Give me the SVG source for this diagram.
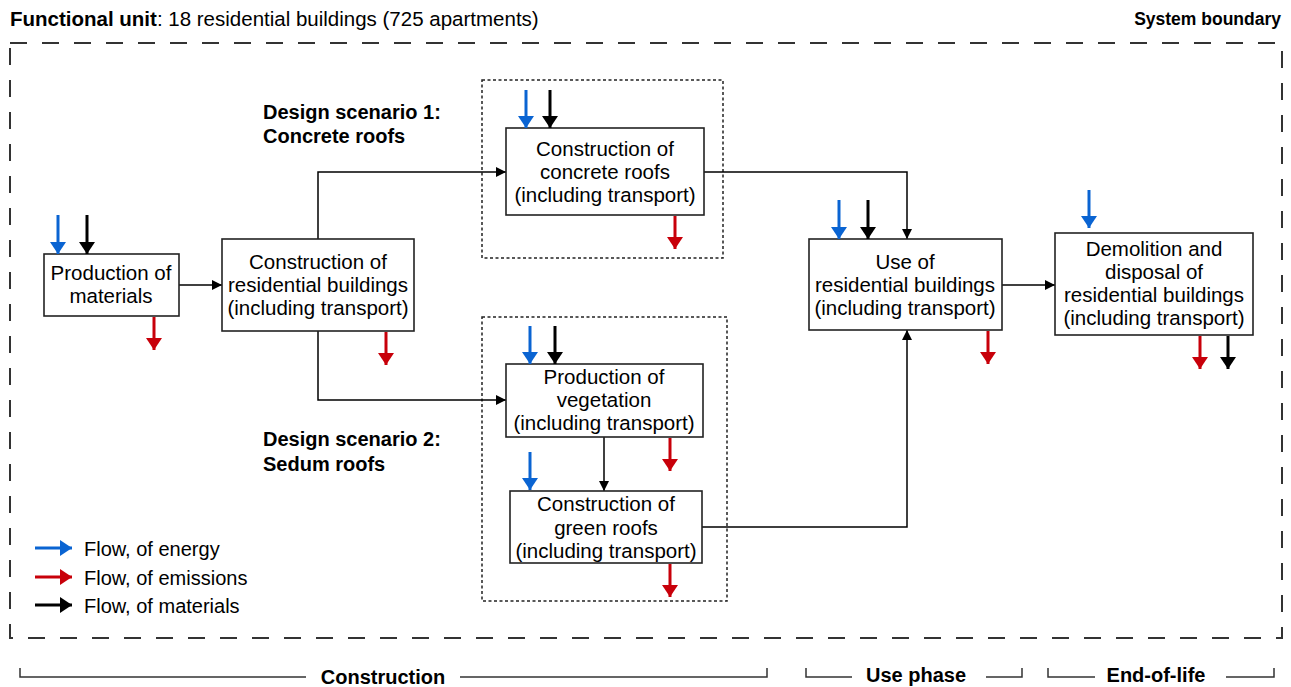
<svg xmlns="http://www.w3.org/2000/svg" width="1291" height="687" viewBox="0 0 1291 687">
<defs>
<style>
text{font-family:"Liberation Sans",Arial,sans-serif;fill:#000}
.t{font-size:20.5px;text-anchor:middle}
.b{font-weight:bold}
.box{fill:#fff;stroke:#222;stroke-width:1.6}
.grp{fill:none;stroke:#222;stroke-width:1.5;stroke-dasharray:3 2.5}
.con{fill:none;stroke:#000;stroke-width:1.5}
.fe{stroke:#0a64d2;stroke-width:3;fill:none}
.fm{stroke:#000;stroke-width:3;fill:none}
.fr{stroke:#c8000a;stroke-width:3;fill:none}
.ds{font-size:20px;font-weight:bold}
.lg{font-size:20px}
.ph{font-size:20px;font-weight:bold;text-anchor:middle}
</style>
<marker id="ah" markerWidth="10" markerHeight="10" refX="10" refY="5" orient="auto" markerUnits="userSpaceOnUse" viewBox="0 0 10 10"><path d="M0,0 L10,5 L0,10 z" fill="#000"/></marker>
<marker id="he" markerWidth="20" markerHeight="16" refX="15" refY="10" orient="auto" markerUnits="userSpaceOnUse" viewBox="0 0 15 20"><path d="M0,0 L15,10 L0,20 z" fill="#0a64d2"/></marker>
<marker id="hr" markerWidth="20" markerHeight="16" refX="15" refY="10" orient="auto" markerUnits="userSpaceOnUse" viewBox="0 0 15 20"><path d="M0,0 L15,10 L0,20 z" fill="#c8000a"/></marker>
<marker id="hm" markerWidth="20" markerHeight="16" refX="15" refY="10" orient="auto" markerUnits="userSpaceOnUse" viewBox="0 0 15 20"><path d="M0,0 L15,10 L0,20 z" fill="#000"/></marker>
</defs>
<rect width="1291" height="687" fill="#fff"/>

<g id="header">
<text x="10" y="26" style="font-size:20.5px"><tspan class="b">Functional unit</tspan>:  18 residential buildings (725 apartments)</text>
<text x="1281" y="25" class="b" style="font-size:17.5px;text-anchor:end">System boundary</text>
</g>

<rect id="boundary" x="10" y="43" width="1272" height="595" fill="none" stroke="#333" stroke-width="2" stroke-dasharray="17 15"/>

<g id="groups">
<rect class="grp" x="482" y="80" width="241" height="178"/>
<rect class="grp" x="482" y="317" width="245" height="284"/>
<text x="263" y="119" class="ds">Design scenario 1:</text>
<text x="263" y="143" class="ds">Concrete roofs</text>
<text x="263" y="446" class="ds">Design scenario 2:</text>
<text x="263" y="471" class="ds">Sedum roofs</text>
</g>

<g id="connectors">
<path class="con" d="M179,285 H222" marker-end="url(#ah)"/>
<path class="con" d="M318,239 V172 H506" marker-end="url(#ah)"/>
<path class="con" d="M318,331 V400 H506" marker-end="url(#ah)"/>
<path class="con" d="M704,172 H907 V239" marker-end="url(#ah)"/>
<path class="con" d="M604,437 V491" marker-end="url(#ah)"/>
<path class="con" d="M702,527 H907 V330" marker-end="url(#ah)"/>
<path class="con" d="M1002,285 H1055" marker-end="url(#ah)"/>
</g>

<g id="n-materials">
<rect class="box" x="44" y="254" width="135" height="62"/>
<text class="t" x="111" y="280">Production of</text>
<text class="t" x="111" y="303">materials</text>
</g>
<g id="n-construction">
<rect class="box" x="222" y="239" width="192" height="92"/>
<text class="t" x="318" y="269">Construction of</text>
<text class="t" x="318" y="292">residential buildings</text>
<text class="t" x="318" y="315">(including transport)</text>
</g>
<g id="n-concrete">
<rect class="box" x="506" y="128" width="198" height="87"/>
<text class="t" x="605" y="156">Construction of</text>
<text class="t" x="605" y="179">concrete roofs</text>
<text class="t" x="605" y="202">(including transport)</text>
</g>
<g id="n-vegetation">
<rect class="box" x="506" y="364" width="197" height="73"/>
<text class="t" x="604" y="384">Production of</text>
<text class="t" x="604" y="407">vegetation</text>
<text class="t" x="604" y="430">(including transport)</text>
</g>
<g id="n-green">
<rect class="box" x="510" y="491" width="192" height="72"/>
<text class="t" x="606" y="511">Construction of</text>
<text class="t" x="606" y="535">green roofs</text>
<text class="t" x="606" y="558">(including transport)</text>
</g>
<g id="n-use">
<rect class="box" x="809" y="239" width="193" height="91"/>
<text class="t" x="905" y="269">Use of</text>
<text class="t" x="905" y="292">residential buildings</text>
<text class="t" x="905" y="315">(including transport)</text>
</g>
<g id="n-demolition">
<rect class="box" x="1055" y="233" width="198" height="102"/>
<text class="t" x="1154" y="256">Demolition and</text>
<text class="t" x="1154" y="279">disposal of</text>
<text class="t" x="1154" y="302">residential buildings</text>
<text class="t" x="1154" y="325">(including transport)</text>
</g>

<g id="flows">
<path class="fe" d="M58,215 V254" marker-end="url(#he)"/>
<path class="fm" d="M87,215 V254" marker-end="url(#hm)"/>
<path class="fr" d="M154,317 V350" marker-end="url(#hr)"/>
<path class="fr" d="M386,332 V365" marker-end="url(#hr)"/>
<path class="fe" d="M526,90 V128" marker-end="url(#he)"/>
<path class="fm" d="M550,90 V128" marker-end="url(#hm)"/>
<path class="fr" d="M675,216 V249" marker-end="url(#hr)"/>
<path class="fe" d="M530,326 V364" marker-end="url(#he)"/>
<path class="fm" d="M555,326 V364" marker-end="url(#hm)"/>
<path class="fr" d="M670,438 V471" marker-end="url(#hr)"/>
<path class="fe" d="M530,452 V490" marker-end="url(#he)"/>
<path class="fr" d="M670,564 V597" marker-end="url(#hr)"/>
<path class="fe" d="M839,200 V239" marker-end="url(#he)"/>
<path class="fm" d="M868,200 V239" marker-end="url(#hm)"/>
<path class="fr" d="M988,331 V364" marker-end="url(#hr)"/>
<path class="fe" d="M1089,190 V228" marker-end="url(#he)"/>
<path class="fr" d="M1200,336 V369" marker-end="url(#hr)"/>
<path class="fm" d="M1228,336 V369" marker-end="url(#hm)"/>
</g>

<g id="legend">
<path class="fe" d="M35,548 H72" marker-end="url(#he)"/>
<path class="fr" d="M35,577 H72" marker-end="url(#hr)"/>
<path class="fm" d="M35,605 H72" marker-end="url(#hm)"/>
<text x="84" y="556" class="lg">Flow, of energy</text>
<text x="84" y="585" class="lg">Flow, of emissions</text>
<text x="84" y="613" class="lg">Flow, of materials</text>
</g>

<g id="phases" stroke="#333" stroke-width="1.5" fill="none">
<path d="M20,668 V677 H306 M460,677 H767 V668"/>
<path d="M806,668 V677 H852 M986,677 H1022 V668"/>
<path d="M1048,668 V677 H1095 M1226,677 H1274 V668"/>
</g>
<g id="phase-labels">
<text class="ph" x="383" y="684">Construction</text>
<text class="ph" x="916" y="682">Use phase</text>
<text class="ph" x="1156" y="682">End-of-life</text>
</g>
</svg>
